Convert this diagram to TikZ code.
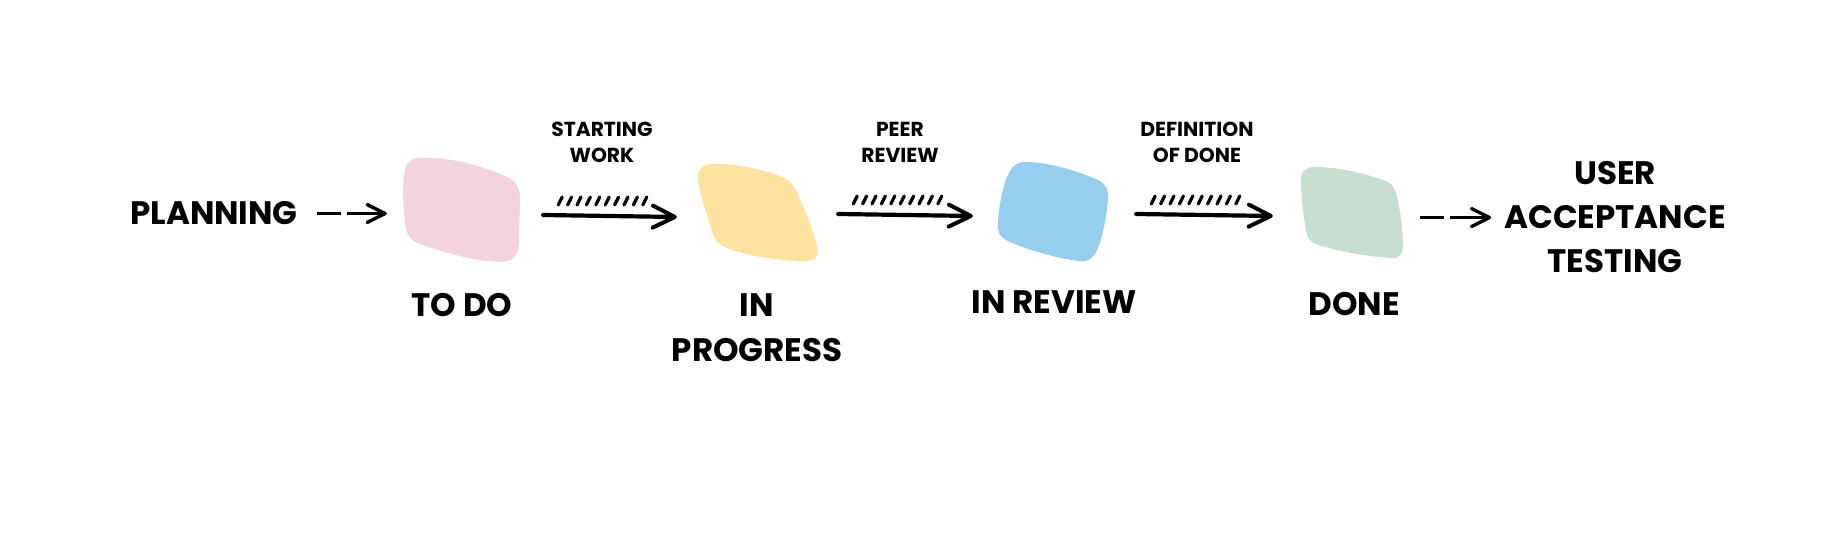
\documentclass[tikz,border=0pt]{standalone}
\usepackage{fontspec}
\setmainfont{Poppins}
\usetikzlibrary{arrows.meta,calc}
\definecolor{pinkc}{HTML}{F3D4DE}
\definecolor{yellowc}{HTML}{FDE2A0}
\definecolor{bluec}{HTML}{96CEEE}
\definecolor{greenc}{HTML}{C7DFD0}
\tikzset{
  bigtext/.style={font=\fontsize{32.5}{44}\selectfont\bfseries, inner sep=0pt, align=center, anchor=base},
  smalltext/.style={font=\fontsize{20.3}{26.5}\selectfont\bfseries, inner sep=0pt, align=center, anchor=base},
  blobbox/.style={rectangle, inner sep=0pt, draw=none},
  brush/.style={line width=4.2pt, line cap=round, -{Straight Barb[length=22pt,width=22pt,line width=4pt,round]}},
  dasharrow/.style={line width=3.4pt, dash pattern=on 24pt off 6pt on 200pt, -{Straight Barb[length=18pt,width=18pt,line width=3.4pt,round]}},
  hatch/.style={line width=3.2pt, line cap=round}
}
\begin{document}
\begin{tikzpicture}[x=1pt,y=-1pt]
\useasboundingbox (0,0) rectangle (1846,534);
% blobs
\fill[pinkc] (420,158) .. controls (445,156) and (480,165) .. (505,176)
  .. controls (518,181) and (520,190) .. (520,200)
  -- (519,243)
  .. controls (518,257) and (512,262) .. (500,262)
  .. controls (475,261) and (440,252) .. (418,243)
  .. controls (408,239) and (406,232) .. (405,222)
  .. controls (403,205) and (402,185) .. (405,170)
  .. controls (407,161) and (412,158) .. (420,158) -- cycle;
\fill[yellowc] (712,164) .. controls (735,163) and (765,170) .. (782,177)
  .. controls (790,180) and (794,186) .. (797,192)
  .. controls (805,210) and (812,228) .. (816,242)
  .. controls (820,255) and (817,261) .. (805,261)
  .. controls (780,261) and (745,256) .. (725,247)
  .. controls (718,244) and (715,240) .. (713,234)
  .. controls (708,218) and (700,195) .. (698,180)
  .. controls (697,170) and (703,164) .. (712,164) -- cycle;
\fill[bluec] (1025,162) .. controls (1050,162) and (1080,172) .. (1098,180)
  .. controls (1106,184) and (1109,190) .. (1108,200)
  .. controls (1106,220) and (1102,240) .. (1097,250)
  .. controls (1093,259) and (1088,262) .. (1078,261)
  .. controls (1055,258) and (1025,249) .. (1008,241)
  .. controls (999,237) and (997,230) .. (998,222)
  .. controls (999,205) and (1003,185) .. (1008,175)
  .. controls (1012,166) and (1017,162) .. (1025,162) -- cycle;
\fill[greenc] (1315,167) .. controls (1340,167) and (1370,175) .. (1386,181)
  .. controls (1393,184) and (1395,189) .. (1397,196)
  .. controls (1400,210) and (1403,230) .. (1403,245)
  .. controls (1403,254) and (1400,258) .. (1392,258)
  .. controls (1370,257) and (1335,251) .. (1316,244)
  .. controls (1309,241) and (1307,237) .. (1306,230)
  .. controls (1303,215) and (1301,195) .. (1301,180)
  .. controls (1301,171) and (1306,167) .. (1315,167) -- cycle;
% invisible blob nodes
\node[blobbox, minimum width=118pt, minimum height=104pt] (todo) at (462,209) {};
\node[blobbox, minimum width=121pt, minimum height=99pt] (prog) at (757.5,211.5) {};
\node[blobbox, minimum width=111pt, minimum height=100pt] (rev) at (1053.5,211) {};
\node[blobbox, minimum width=102pt, minimum height=92pt] (done) at (1352,212) {};
% texts (base = baseline of the last line)
\node[bigtext] (planning) at (214,225) {PLANNING};
\node[bigtext] (todolbl) at (462,317) {TO DO};
\node[bigtext] (proglbl) at (757,361) {IN\\PROGRESS};
\node[bigtext] (revlbl) at (1054,314) {IN REVIEW};
\node[bigtext] (donelbl) at (1354,316) {DONE};
\node[bigtext] (uat) at (1615,273) {USER\\ACCEPTANCE\\TESTING};
\node[smalltext] (l1) at (602,163) {STARTING\\WORK};
\node[smalltext] (l2) at (900,163) {PEER\\REVIEW};
\node[smalltext] (l3) at (1197,163) {DEFINITION\\OF DONE};
% dashed arrows
\draw[dasharrow, shorten <=19pt, shorten >=16pt] (planning.east) -- (todo.west |- planning.east);
\draw[dasharrow, shorten <=17pt, shorten >=13pt] (done.east |- uat.west) -- (uat.west);
% brush arrows
\path ($(todo.east)+(22,6)$) coordinate (a1s) ($(prog.west)+(-20,5.5)$) coordinate (a1e);
\path ($(prog.east)+(20,2.5)$) coordinate (a2s) ($(rev.west)+(-25,5)$) coordinate (a2e);
\path ($(rev.east)+(27,3)$) coordinate (a3s) ($(done.west)+(-28,4)$) coordinate (a3e);
\draw[brush] (a1s) -- (a1e);
\draw[brush] (a2s) -- (a2e);
\draw[brush] (a3s) -- (a3e);
\foreach \s in {a1s,a2s,a3s}{
  \foreach \i in {0,...,9}{
    \draw[hatch] ($(\s)+(15+\i*9.4,-10)$) -- ++(4,-8);
  }
}
\end{tikzpicture}
\end{document}
